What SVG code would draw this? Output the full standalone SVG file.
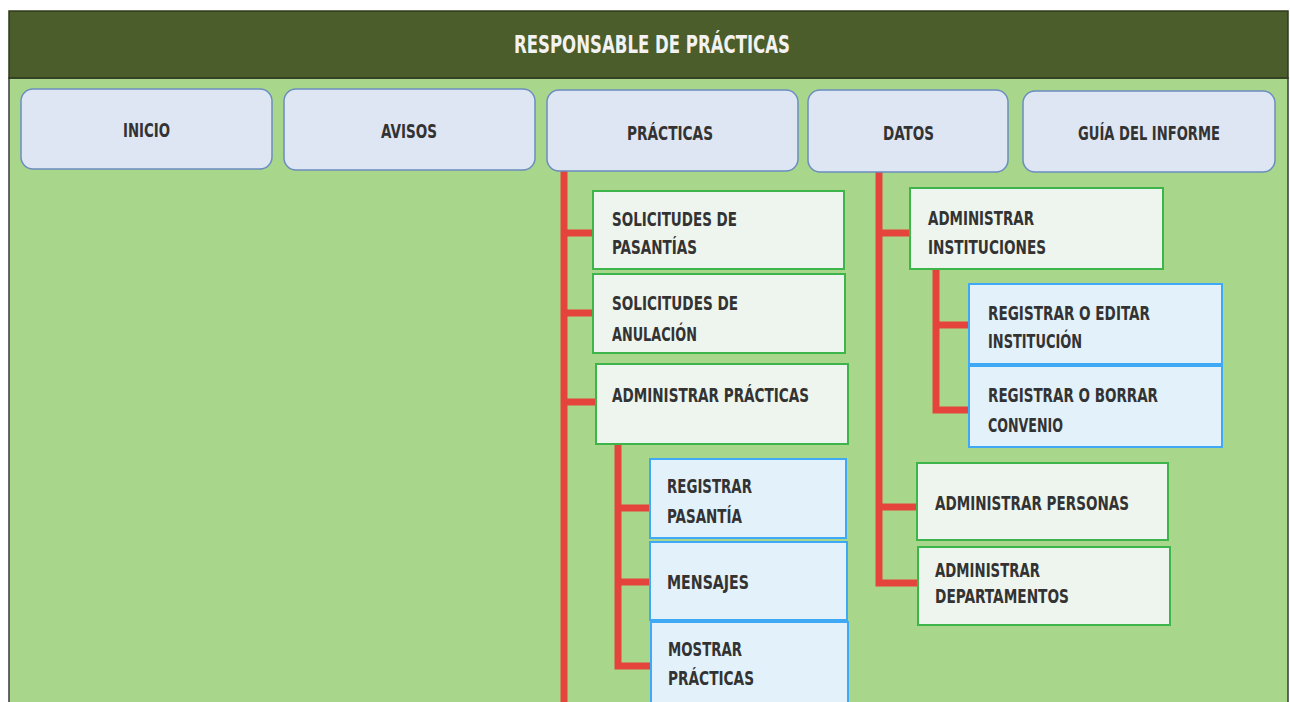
<svg xmlns="http://www.w3.org/2000/svg" width="1290" height="702" viewBox="0 0 1290 702">
<style>
text{font-family:"Liberation Sans Narrow","DejaVu Sans Condensed","Liberation Sans",sans-serif;font-weight:bold;font-size:19px;fill:#333333}
.title{font-size:25px;fill:#f2f2f2}
.top{fill:#dfe6f3;stroke:#6b8dc0;stroke-width:1.5}
.grn{fill:#eef5ef;stroke:#3db54a;stroke-width:2}
.blu{fill:#e3f1fb;stroke:#3fa9f5;stroke-width:2}
.red{fill:none;stroke:#e5443c;stroke-width:7;stroke-linejoin:miter}
</style>
<rect x="0" y="0" width="1290" height="702" fill="#ffffff"/>
<rect x="9" y="78" width="1279" height="630" fill="#a8d78b" stroke="#3a3a3a" stroke-width="1.5"/>
<g id="header">
<rect x="9" y="11" width="1279" height="67" fill="#4a5d2b" stroke="#2e3a1c" stroke-width="1.5"/>
<text class="title" x="514" y="53" textLength="276" lengthAdjust="spacingAndGlyphs">RESPONSABLE DE PRÁCTICAS</text>
</g>
<g id="connectors">
<path class="red" d="M564 171 V702 M564 233 H594 M564 313 H594 M564 402 H597"/>
<path class="red" d="M618 444 V666 H651 M618 508 H651 M618 582 H651"/>
<path class="red" d="M879 172 V583 H919 M879 233 H911 M879 507 H918"/>
<path class="red" d="M936 269 V410 H970 M936 325 H970"/>
</g>
<g id="inicio"><rect class="top" x="21" y="89" width="251" height="80" rx="12"/><text x="123" y="137" textLength="47" lengthAdjust="spacingAndGlyphs">INICIO</text></g>
<g id="avisos"><rect class="top" x="284" y="89" width="251" height="81" rx="12"/><text x="381" y="138" textLength="56" lengthAdjust="spacingAndGlyphs">AVISOS</text></g>
<g id="practicas"><rect class="top" x="547" y="90" width="251" height="81" rx="12"/><text x="627" y="140" textLength="86" lengthAdjust="spacingAndGlyphs">PRÁCTICAS</text></g>
<g id="datos"><rect class="top" x="808" y="90" width="200" height="82" rx="12"/><text x="883" y="140" textLength="51" lengthAdjust="spacingAndGlyphs">DATOS</text></g>
<g id="guia"><rect class="top" x="1023" y="91" width="252" height="81" rx="12"/><text x="1078" y="140" textLength="142" lengthAdjust="spacingAndGlyphs">GUÍA DEL INFORME</text></g>
<g id="sol-pasantias"><rect class="grn" x="593" y="191" width="251" height="78"/><text x="612" y="226" textLength="125" lengthAdjust="spacingAndGlyphs">SOLICITUDES DE</text><text x="612" y="254" textLength="85" lengthAdjust="spacingAndGlyphs">PASANTÍAS</text></g>
<g id="sol-anulacion"><rect class="grn" x="593" y="274" width="252" height="79"/><text x="612" y="310" textLength="126" lengthAdjust="spacingAndGlyphs">SOLICITUDES DE</text><text x="612" y="341" textLength="85" lengthAdjust="spacingAndGlyphs">ANULACIÓN</text></g>
<g id="admin-practicas"><rect class="grn" x="596" y="364" width="252" height="80"/><text x="612" y="402" textLength="197" lengthAdjust="spacingAndGlyphs">ADMINISTRAR PRÁCTICAS</text></g>
<g id="reg-pasantia"><rect class="blu" x="650" y="459" width="196" height="79"/><text x="667" y="493" textLength="85" lengthAdjust="spacingAndGlyphs">REGISTRAR</text><text x="667" y="523" textLength="75" lengthAdjust="spacingAndGlyphs">PASANTÍA</text></g>
<g id="mensajes"><rect class="blu" x="650" y="542" width="197" height="78"/><text x="667" y="589" textLength="82" lengthAdjust="spacingAndGlyphs">MENSAJES</text></g>
<g id="mostrar"><rect class="blu" x="651" y="622" width="197" height="100"/><text x="668" y="656" textLength="74" lengthAdjust="spacingAndGlyphs">MOSTRAR</text><text x="668" y="685" textLength="86" lengthAdjust="spacingAndGlyphs">PRÁCTICAS</text></g>
<g id="admin-inst"><rect class="grn" x="910" y="188" width="253" height="81"/><text x="928" y="225" textLength="106" lengthAdjust="spacingAndGlyphs">ADMINISTRAR</text><text x="928" y="254" textLength="118" lengthAdjust="spacingAndGlyphs">INSTITUCIONES</text></g>
<g id="reg-inst"><rect class="blu" x="969" y="284" width="253" height="80"/><text x="988" y="320" textLength="162" lengthAdjust="spacingAndGlyphs">REGISTRAR O EDITAR</text><text x="988" y="348" textLength="94" lengthAdjust="spacingAndGlyphs">INSTITUCIÓN</text></g>
<g id="reg-conv"><rect class="blu" x="969" y="366" width="253" height="81"/><text x="988" y="402" textLength="170" lengthAdjust="spacingAndGlyphs">REGISTRAR O BORRAR</text><text x="988" y="432" textLength="75" lengthAdjust="spacingAndGlyphs">CONVENIO</text></g>
<g id="admin-personas"><rect class="grn" x="917" y="463" width="251" height="77"/><text x="935" y="510" textLength="194" lengthAdjust="spacingAndGlyphs">ADMINISTRAR PERSONAS</text></g>
<g id="admin-deptos"><rect class="grn" x="918" y="547" width="252" height="78"/><text x="935" y="577" textLength="105" lengthAdjust="spacingAndGlyphs">ADMINISTRAR</text><text x="935" y="603" textLength="134" lengthAdjust="spacingAndGlyphs">DEPARTAMENTOS</text></g>
</svg>
